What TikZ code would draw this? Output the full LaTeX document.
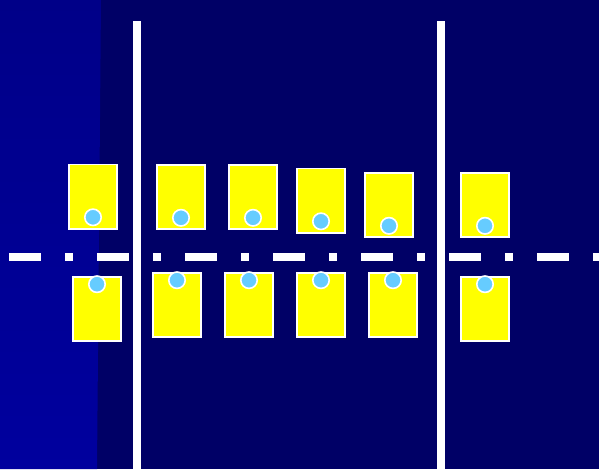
\documentclass[tikz,border=0pt]{standalone}
\usetikzlibrary{calc}
\definecolor{deepnavy}{RGB}{0,0,102}
\definecolor{striptop}{RGB}{0,0,136}
\definecolor{stripbottom}{RGB}{0,0,158}
\definecolor{cardyellow}{RGB}{255,255,0}
\definecolor{pinblue}{RGB}{102,204,255}
\tikzset{
  card/.style={draw=white, line width=1.6pt, fill=cardyellow, minimum width=48.4pt, minimum height=64.4pt, inner sep=0pt},
  pin/.style={circle, draw=white, line width=1.6pt, fill=pinblue, minimum size=16.4pt, inner sep=0pt},
  rail/.style={white, line width=8pt},
  divider/.style={white, line width=8pt, dash pattern=on 32pt off 24pt on 8pt off 24pt}
}

\begin{document}
\begin{tikzpicture}[x=1pt,y=-1pt]
    % Background and left strip
    \useasboundingbox (0,0) rectangle (599,469);
    \fill[deepnavy] (0,0) rectangle (599,469);
    \shade[top color=striptop, bottom color=stripbottom] (0,0) -- (101,0) -- (97,469) -- (0,469) -- cycle;

    % Vertical rails
    \coordinate (r1top) at (137,21);
    \coordinate (r1bot) at (137,469);
    \coordinate (r2top) at (441,21);
    \coordinate (r2bot) at (441,469);
    \draw[rail] (r1top) -- (r1bot);
    \draw[rail] (r2top) -- (r2bot);

    % Dash-dot divider
    \coordinate (divleft) at (9,257);
    \coordinate (divright) at (599,257);
    \draw[divider] (divleft) -- (divright);

    % Upper row of cards
    \foreach \n/\x/\y in {1/93/196.5, 2/181/197, 3/253/197, 4/321/200.5, 5/389/205, 6/485/205} {
        \node[card] (t\n) at (\x,\y) {};
        \node[pin] (tp\n) at ($(t\n.south)+(0,-12.2)$) {};
    }

    % Lower row of cards
    \foreach \n/\x/\y in {1/97/309, 2/177/305, 3/249/305, 4/321/305, 5/393/305, 6/485/309} {
        \node[card] (b\n) at (\x,\y) {};
        \node[pin] (bp\n) at ($(b\n.north)+(0,8.2)$) {};
    }
\end{tikzpicture}
\end{document}
